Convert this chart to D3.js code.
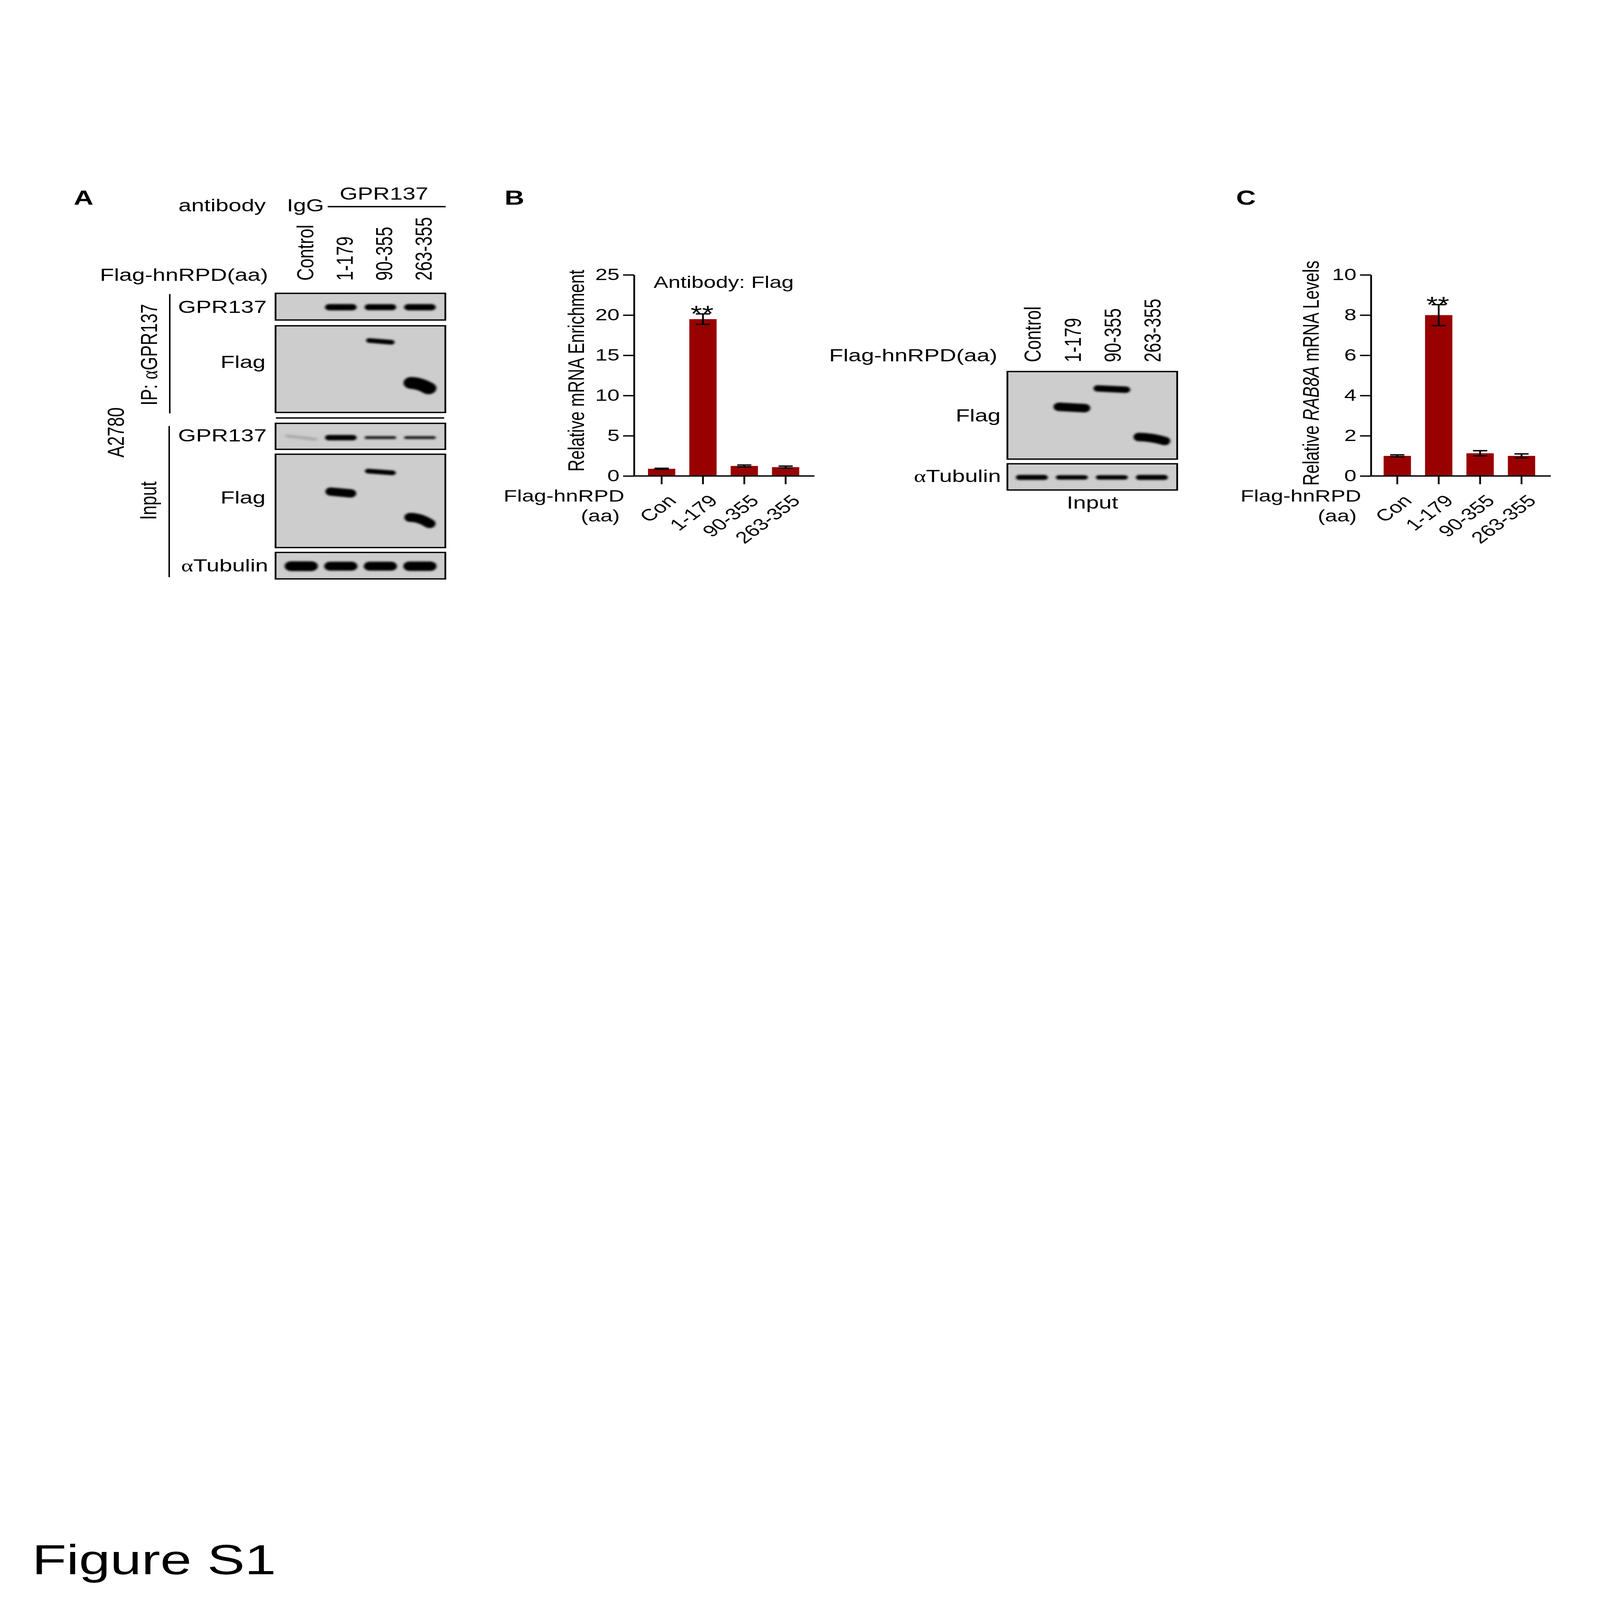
<!DOCTYPE html>
<html><head><meta charset="utf-8">
<script src="https://cdn.jsdelivr.net/npm/d3@7"></script>
<style>
html,body{margin:0;padding:0;background:#fff;overflow:hidden}
svg{display:block;width:100vw;height:100vh}
text{font-family:"Liberation Sans",Arial,Helvetica,sans-serif;fill:#000}
</style>
</head><body>
<svg id="fig" viewBox="0 0 5400 7200" preserveAspectRatio="none"></svg>
<script>
// ---------------- DATA ----------------
const lanes = ["Control", "1-179", "90-355", "263-355"];
const barCategories = ["Con", "1-179", "90-355", "263-355"];

const enrichmentMeans = [0.9, 19.5, 1.25, 1.1];
const enrichmentErrors = [0.06, 0.65, 0.12, 0.13];
const enrichmentTicks = [0, 5, 10, 15, 20, 25];

const rab8aMeans = [1.0, 8.0, 1.13, 1.0];
const rab8aErrors = [0.05, 0.52, 0.13, 0.1];
const rab8aTicks = [0, 2, 4, 6, 8, 10];

const significance = ["", "**", "", ""];

// western blot band signal per lane (relative) and relative migration (0 = top, 1 = bottom)
const ipGPR137Signal = [0, 1.0, 0.95, 1.0];
const ipFlagSignal = [0, 0, 0.7, 1.8];
const ipFlagMigration = [0, 0, 0.18, 0.69];
const inputGPR137Signal = [0.2, 1.0, 0.55, 0.55];
const inputFlagSignal = [0, 1.25, 0.7, 1.35];
const inputFlagMigration = [0, 0.41, 0.19, 0.71];
const inputTubulinSignal = [1.1, 1.0, 1.0, 1.05];
const bFlagSignal = [0, 1.2, 0.9, 1.2];
const bFlagMigration = [0, 0.41, 0.2, 0.77];
const bTubulinSignal = [0.8, 0.7, 0.7, 0.8];

// ---------------- SETUP ----------------
const svg = d3.select("#fig");
svg.append("rect").attr("width", 5400).attr("height", 7200).attr("fill", "#fff");
const defs = svg.append("defs");
function addBlur(id, sd) {
  defs.append("filter").attr("id", id).attr("filterUnits", "userSpaceOnUse")
    .attr("x", 0).attr("y", 0).attr("width", 5400).attr("height", 7200)
    .append("feGaussianBlur").attr("stdDeviation", sd);
}
addBlur("blur", 4.5);
addBlur("blurSoft", 7);

const FS = 78;       // blot label font size
const BAR_FS = 74;   // graph font size
const BAR_COLOR = "#990000";
const BLOT_BG = "#cdcdcd";

function txt(g, x, y, s, opts = {}) {
  const t = g.append("text").attr("x", x).attr("y", y)
    .attr("font-size", opts.size || FS)
    .attr("text-anchor", opts.anchor || "start")
    .text(s);
  if (opts.weight) t.attr("font-weight", opts.weight);
  return t;
}
function alphaText(g, x, y, rest, opts = {}) {
  const t = g.append("text").attr("x", x).attr("y", y)
    .attr("font-size", opts.size || FS).attr("text-anchor", opts.anchor || "start");
  if (opts.transform) t.attr("transform", opts.transform);
  if (opts.prefix) t.append("tspan").text(opts.prefix);
  t.append("tspan").attr("font-family", "'Liberation Serif','DejaVu Serif',serif").text("\u03B1");
  t.append("tspan").text(rest);
  return t;
}
function vline(g, x, y1, y2, w = 5) {
  g.append("line").attr("x1", x).attr("x2", x).attr("y1", y1).attr("y2", y2).attr("stroke", "#000").attr("stroke-width", w);
}
function hline(g, x1, x2, y, w = 5) {
  g.append("line").attr("x1", x1).attr("x2", x2).attr("y1", y).attr("y2", y).attr("stroke", "#000").attr("stroke-width", w);
}

// blot: box + bands
function blot(g, laneScale, box, signal, migration, style) {
  const bg = g.append("g");
  bg.append("rect").attr("x", box.x0).attr("y", box.y0)
    .attr("width", box.x1 - box.x0).attr("height", box.y1 - box.y0)
    .attr("fill", BLOT_BG);
  const items = lanes.map((l, i) => ({lane: l, s: signal[i], m: migration ? migration[i] : style.mig}))
    .filter(d => d.s > 0);
  const h = box.y1 - box.y0;
  const step = laneScale.step();
  bg.selectAll("path.band").data(items).join("path")
    .attr("class", "band")
    .attr("d", d => {
      const cx = laneScale(d.lane) + laneScale.bandwidth() / 2 + (style.dx || 0);
      const cy = box.y0 + d.m * h;
      const w = step * (style.wFrac || 0.8);
      const t = style.thick * Math.min(d.s, 1.3);
      const half = Math.max(0, w / 2 - t / 2);
      const tilt = (style.tilt || 0) * (d.lane === "263-355" ? (style.crescent || 1) : 1) + (d.lane === "Control" ? (style.ctlTilt || 0) : 0);
      const x1 = cx - half, x2 = cx + half;
      const y1 = cy - tilt / 2, y2 = cy + tilt / 2;
      const bow = d.lane === "263-355" ? (style.bow || 0) : 0;
      return `M${x1},${y1} Q${cx},${cy - bow} ${x2},${y2}`;
    })
    .attr("fill", "none")
    .attr("stroke", "#000")
    .attr("stroke-linecap", "round")
    .attr("stroke-width", d => style.thick * d.s)
    .attr("stroke-opacity", d => Math.min(1, 0.3 + d.s))
    .attr("filter", d => d.s < 0.4 ? "url(#blurSoft)" : "url(#blur)");
  bg.append("rect").attr("x", box.x0).attr("y", box.y0)
    .attr("width", box.x1 - box.x0).attr("height", box.y1 - box.y0)
    .attr("fill", "none").attr("stroke", "#000").attr("stroke-width", 6);
}

// ---------------- PANEL A ----------------
const gA = svg.append("g");
txt(gA, 249, 921, "A", {size: 92, weight: "bold"});
txt(gA, 897, 951, "antibody", {anchor: "end"});
txt(gA, 968, 951, "IgG");
txt(gA, 1296, 898, "GPR137", {anchor: "middle"});
hline(gA, 1106, 1504, 930, 6);
txt(gA, 905, 1263, "Flag-hnRPD(aa)", {anchor: "end"});

const xA = d3.scaleBand().domain(lanes).range([950, 1484]);
gA.selectAll("text.laneA").data(lanes).join("text")
  .attr("class", "laneA")
  .attr("font-size", FS)
  .attr("transform", d => `translate(${xA(d) + xA.bandwidth() / 2 + 40},1263) rotate(-90)`)
  .text(d => d);

const boxX0 = 930, boxX1 = 1503;
blot(gA, xA, {x0: boxX0, x1: boxX1, y0: 1320, y1: 1440}, ipGPR137Signal, null, {thick: 28, mig: 0.52, wFrac: 0.8});
blot(gA, xA, {x0: boxX0, x1: boxX1, y0: 1466, y1: 1856}, ipFlagSignal, ipFlagMigration, {thick: 30, wFrac: 0.72, tilt: 8, crescent: 3, bow: 10});
hline(gA, 931, 1499, 1881, 6);
blot(gA, xA, {x0: boxX0, x1: boxX1, y0: 1905, y1: 2022}, inputGPR137Signal, null, {thick: 24, mig: 0.55, wFrac: 0.8, ctlTilt: 16});
blot(gA, xA, {x0: boxX0, x1: boxX1, y0: 2044, y1: 2464}, inputFlagSignal, inputFlagMigration, {thick: 30, wFrac: 0.78, tilt: 8, crescent: 3.5, bow: 14});
blot(gA, xA, {x0: boxX0, x1: boxX1, y0: 2486, y1: 2605}, inputTubulinSignal, null, {thick: 40, mig: 0.52, wFrac: 0.84});

txt(gA, 900, 1408, "GPR137", {anchor: "end"});
txt(gA, 896, 1656, "Flag", {anchor: "end"});
txt(gA, 900, 1986, "GPR137", {anchor: "end"});
txt(gA, 896, 2266, "Flag", {anchor: "end"});
alphaText(gA, 905, 2572, "Tubulin", {anchor: "end"});

vline(gA, 573, 1323, 1860, 5);
vline(gA, 571, 1917, 2597, 5);
alphaText(gA, 0, 0, "GPR137", {anchor: "middle", prefix: "IP: ", transform: "translate(530,1596) rotate(-90)"});
gA.append("text").attr("font-size", FS).attr("text-anchor", "middle")
  .attr("transform", "translate(527,2253) rotate(-90)").text("Input");
gA.append("text").attr("font-size", FS).attr("text-anchor", "middle")
  .attr("transform", "translate(418,1946) rotate(-90)").text("A2780");

// ---------------- BAR CHART helper ----------------
function barChart(g, cfg) {
  const y = d3.scaleLinear().domain([0, cfg.max]).range([cfg.y0, cfg.yTop]);
  const x = d3.scaleBand().domain(barCategories).range(cfg.xRange).paddingInner(0.34).paddingOuter(0.17);
  const data = barCategories.map((c, i) => ({c, v: cfg.means[i], e: cfg.errors[i], s: significance[i]}));

  g.selectAll("rect.bar").data(data).join("rect").attr("class", "bar")
    .attr("x", d => x(d.c)).attr("width", x.bandwidth())
    .attr("y", d => y(d.v)).attr("height", d => y(0) - y(d.v))
    .attr("fill", BAR_COLOR);

  const capW = 48;
  const cx = d => x(d.c) + x.bandwidth() / 2;
  const eb = g.selectAll("g.err").data(data).join("g").attr("class", "err")
    .attr("stroke", "#000").attr("stroke-width", 6);
  eb.append("line").attr("x1", cx).attr("x2", cx)
    .attr("y1", d => y(d.v + d.e)).attr("y2", d => y(d.v - d.e));
  eb.append("line").attr("x1", d => cx(d) - capW / 2).attr("x2", d => cx(d) + capW / 2)
    .attr("y1", d => y(d.v + d.e)).attr("y2", d => y(d.v + d.e));
  eb.append("line").attr("x1", d => cx(d) - capW / 2).attr("x2", d => cx(d) + capW / 2)
    .attr("y1", d => y(d.v - d.e)).attr("y2", d => y(d.v - d.e));

  g.selectAll("text.sig").data(data.filter(d => d.s)).join("text").attr("class", "sig")
    .attr("x", d => cx(d) - 3)
    .attr("y", d => y(d.v + d.e) + 35)
    .attr("text-anchor", "middle").attr("font-size", 100).text(d => d.s);

  const yAxis = g.append("g").attr("transform", `translate(${cfg.axisX},0)`)
    .call(d3.axisLeft(y).tickValues(cfg.ticks).tickSize(37).tickPadding(12).tickSizeOuter(0));
  yAxis.selectAll("path,line").attr("stroke", "#000").attr("stroke-width", 6);
  yAxis.selectAll("text").attr("font-size", BAR_FS).attr("font-family", "'Liberation Sans',Arial,sans-serif").attr("fill", "#000");

  const xAxis = g.append("g").attr("transform", `translate(0,${cfg.y0})`)
    .call(d3.axisBottom(x).tickSize(37).tickSizeOuter(0));
  xAxis.select(".domain").remove();
  xAxis.selectAll("text").remove();
  xAxis.selectAll("line").attr("stroke", "#000").attr("stroke-width", 6);
  g.append("line").attr("x1", cfg.axisX).attr("x2", cfg.xEnd).attr("y1", cfg.y0).attr("y2", cfg.y0)
    .attr("stroke", "#000").attr("stroke-width", 6);

  g.selectAll("text.cat").data(data).join("text").attr("class", "cat")
    .attr("font-size", BAR_FS).attr("text-anchor", "end")
    .attr("transform", d => `translate(${cx(d) + 53},${cfg.y0 + 116}) rotate(-45)`)
    .text(d => d.c);

  txt(g, cfg.axisX - 33, cfg.y0 + 115, "Flag-hnRPD", {anchor: "end", size: BAR_FS});
  txt(g, cfg.axisX - 48, cfg.y0 + 205, "(aa)", {anchor: "end", size: BAR_FS});
  return {x, y};
}

// ---------------- PANEL B ----------------
const gB = svg.append("g");
txt(gB, 1703, 921, "B", {size: 92, weight: "bold"});
barChart(gB, {max: 25, ticks: enrichmentTicks, means: enrichmentMeans, errors: enrichmentErrors,
  y0: 2142, yTop: 1237, axisX: 2140, xRange: [2163.25, 2721.25], xEnd: 2749});
gB.append("text").attr("font-size", 75).attr("text-anchor", "middle")
  .attr("transform", "translate(1971,1668) rotate(-90)").text("Relative mRNA Enrichment");
txt(gB, 2206, 1295, "Antibody: Flag", {size: BAR_FS});

const xB = d3.scaleBand().domain(lanes).range([3415, 3955]);
txt(gB, 3366, 1626, "Flag-hnRPD(aa)", {anchor: "end"});
gB.selectAll("text.laneB").data(lanes).join("text")
  .attr("class", "laneB").attr("font-size", FS)
  .attr("transform", d => `translate(${xB(d) + xB.bandwidth() / 2 + 30},1630) rotate(-90)`)
  .text(d => d);
blot(gB, xB, {x0: 3400, x1: 3973, y0: 1672, y1: 2066}, bFlagSignal, bFlagMigration, {thick: 32, wFrac: 0.92, tilt: 6, crescent: 3, bow: 8});
blot(gB, xB, {x0: 3400, x1: 3973, y0: 2087, y1: 2205}, bTubulinSignal, null, {thick: 28, mig: 0.52, wFrac: 0.8});
txt(gB, 3377, 1896, "Flag", {anchor: "end"});
alphaText(gB, 3378, 2170, "Tubulin", {anchor: "end"});
txt(gB, 3687, 2289, "Input", {anchor: "middle"});

// ---------------- PANEL C ----------------
const gC = svg.append("g");
txt(gC, 4172, 921, "C", {size: 92, weight: "bold"});
barChart(gC, {max: 10, ticks: rab8aTicks, means: rab8aMeans, errors: rab8aErrors,
  y0: 2142, yTop: 1237, axisX: 4627, xRange: [4646, 5205], xEnd: 5234});
const tC = gC.append("text").attr("font-size", 75).attr("text-anchor", "middle")
  .attr("transform", "translate(4451,1679) rotate(-90)");
tC.append("tspan").text("Relative ");
tC.append("tspan").attr("font-style", "italic").text("RAB8A");
tC.append("tspan").text(" mRNA Levels");

// ---------------- FIGURE LABEL ----------------
txt(svg, 108, 7084, "Figure S1", {size: 190});
</script>
</body></html>
